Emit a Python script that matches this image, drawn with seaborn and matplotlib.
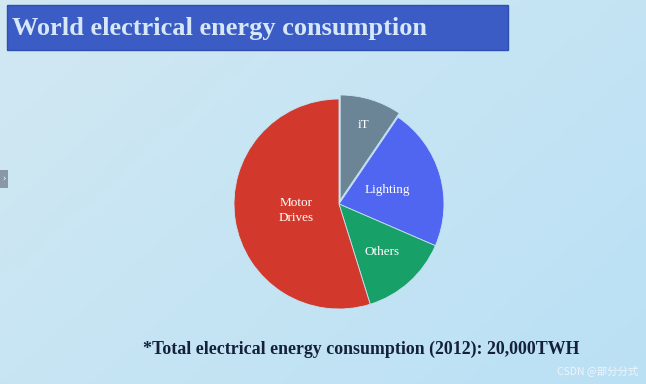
import matplotlib.pyplot as plt
import numpy as np
import seaborn as sns

# slice shares (%), clockwise from 12 o'clock
labels = ["iT", "Lighting", "Others", "Motor\nDrives"]
shares = [9.5, 22.0, 13.7, 54.8]
colors = ["#6b8597", "#5066f0", "#17a068", "#d2392c"]
explode = [0.04, 0, 0, 0]
label_r = [0.79, 0.48, 0.62, 0.41]

title = "World electrical energy consumption"
footnote = "*Total electrical energy consumption (2012): 20,000TWH"

sns.set_style("white")
plt.rcParams["font.family"] = ["Liberation Serif", "DejaVu Serif"]

W, H = 646, 384
fig = plt.figure(figsize=(W / 100, H / 100), dpi=100)

# slide background
bg = fig.add_axes([0, 0, 1, 1])
gx = np.linspace(0, 1, 200)
gy = np.linspace(0, 1, 120)
X, Y = np.meshgrid(gx, gy)
c0 = np.array([0.82, 0.91, 0.95])
c1 = np.array([0.73, 0.88, 0.96])
t = (0.6 * X + 0.4 * Y)[..., None]
bg.imshow(c0 * (1 - t) + c1 * t, extent=[0, W, H, 0], aspect="auto")
bg.set_xlim(0, W)
bg.set_ylim(H, 0)
bg.axis("off")

# title banner
bg.add_patch(plt.Rectangle((7, 5), 501, 45, facecolor="#3b5cc4",
                           edgecolor="#2f4fae", lw=1))
bg.text(12, 28, title, fontsize=19, fontweight="bold", color="#d6e8f7",
        va="center", ha="left")
# small nav tab on left
bg.add_patch(plt.Rectangle((0, 170), 8, 18, facecolor="#8a98a6", lw=0))
bg.text(3.5, 179, "›", fontsize=6, color="white", ha="center", va="center",
        family="DejaVu Sans")

bg.text(143, 349, footnote, fontsize=12.9, fontweight="bold",
        color="#15203a", va="center", ha="left")
bg.text(638, 371, "CSDN @部分分式", fontsize=7.5, color="#eef6fb",
        ha="right", va="center", family=["Noto Sans CJK SC", "DejaVu Sans"])

# pie
cx, cy, r = 339, 204, 105
pad = 1.1
ax = fig.add_axes([(cx - r * pad) / W, 1 - (cy + r * pad) / H,
                   2 * r * pad / W, 2 * r * pad / H])
wedges, _ = ax.pie(shares, colors=colors, explode=explode, startangle=90,
                   counterclock=False,
                   wedgeprops=dict(linewidth=0.6, edgecolor="#c4e3f3"))
ax.set_xlim(-pad, pad)
ax.set_ylim(-pad, pad)
ax.axis("off")
for w, lab, lr in zip(wedges, labels, label_r):
    ang = np.deg2rad((w.theta1 + w.theta2) / 2)
    ax.text(lr * np.cos(ang), lr * np.sin(ang), lab, color="white",
            fontsize=9.5, ha="center", va="center", linespacing=1.3)

fig.savefig("out.png", dpi=100)
